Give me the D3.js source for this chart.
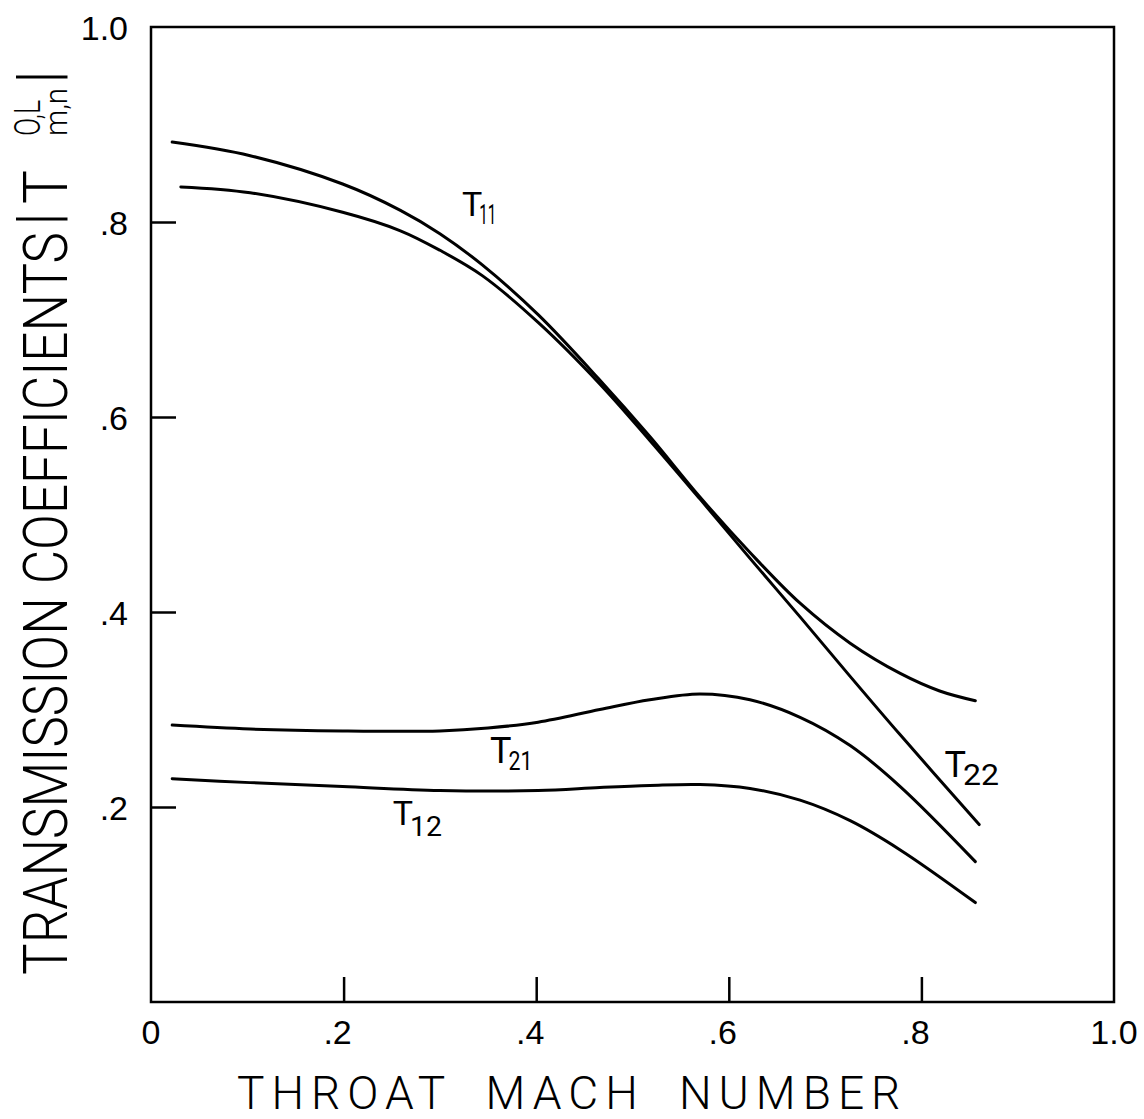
<!DOCTYPE html>
<html>
<head>
<meta charset="utf-8">
<script src="https://cdn.jsdelivr.net/npm/d3@7"></script>
<style>
  html, body { margin: 0; padding: 0; background: #fff; }
  svg { display: block; }
</style>
</head>
<body>
<svg id="chart" width="1144" height="1119"></svg>
<script>
// ---- data ----
const xTicks = [0, 0.2, 0.4, 0.6, 0.8, 1.0];
const xTickLabels = ["0", ".2", ".4", ".6", ".8", "1.0"];
const yTicks = [0.2, 0.4, 0.6, 0.8, 1.0];
const yTickLabels = [".2", ".4", ".6", ".8", "1.0"];

const machT11 = [0.022, 0.103, 0.199, 0.259, 0.300, 0.344, 0.402, 0.466, 0.518, 0.570, 0.622, 0.674, 0.726, 0.778, 0.819, 0.856];
const valT11  = [0.882, 0.868, 0.839, 0.812, 0.788, 0.756, 0.705, 0.638, 0.580, 0.518, 0.461, 0.409, 0.368, 0.337, 0.319, 0.309];

const machT22 = [0.031, 0.103, 0.199, 0.259, 0.300, 0.344, 0.402, 0.466, 0.518, 0.570, 0.622, 0.674, 0.726, 0.778, 0.860];
const valT22  = [0.836, 0.830, 0.810, 0.791, 0.771, 0.745, 0.697, 0.634, 0.576, 0.516, 0.455, 0.395, 0.334, 0.274, 0.182];

const machT21 = [0.022, 0.103, 0.199, 0.300, 0.350, 0.402, 0.466, 0.518, 0.570, 0.622, 0.674, 0.726, 0.778, 0.856];
const valT21  = [0.284, 0.280, 0.278, 0.278, 0.281, 0.287, 0.300, 0.310, 0.316, 0.310, 0.292, 0.263, 0.221, 0.144];

const machT12 = [0.022, 0.103, 0.199, 0.300, 0.402, 0.466, 0.518, 0.570, 0.622, 0.674, 0.726, 0.778, 0.856];
const valT12  = [0.229, 0.225, 0.221, 0.217, 0.217, 0.220, 0.222, 0.223, 0.219, 0.207, 0.186, 0.156, 0.102];

const curveNames = ["T", "T", "T", "T"];
const curveSubs = ["11", "21", "12", "22"];

// ---- layout ----
const svg = d3.select("#chart");
const x = d3.scaleLinear().domain([0, 1]).range([151, 1114]);
const y = d3.scaleLinear().domain([0, 1]).range([1002, 27]);

const ink = "#000";
const fontTick = "'Liberation Sans', Arial, sans-serif";
const fontLetter = "Roboto, 'DejaVu Sans', sans-serif";

// frame
svg.append("rect")
  .attr("x", x(0)).attr("y", y(1))
  .attr("width", x(1) - x(0)).attr("height", y(0) - y(1))
  .attr("fill", "none").attr("stroke", ink).attr("stroke-width", 2.5);

// x axis ticks (inward)
const xAxis = d3.axisTop(x).tickValues(xTicks.filter(v => v > 0 && v < 1))
  .tickSize(25).tickFormat("");
const gx = svg.append("g").attr("transform", `translate(0,${y(0)})`).call(xAxis);
gx.select(".domain").remove();
gx.selectAll("line").attr("stroke", ink).attr("stroke-width", 2.5);

svg.append("g").selectAll("text").data(xTicks).join("text")
  .attr("x", (d, i) => x(d) - (xTickLabels[i].startsWith(".") ? 6 : 0))
  .attr("y", y(0) + 42)
  .attr("text-anchor", "middle")
  .attr("font-family", fontTick).attr("font-size", 34)
  .attr("fill", ink)
  .text((d, i) => xTickLabels[i]);

// y axis ticks (inward)
const yAxis = d3.axisRight(y).tickValues(yTicks.filter(v => v < 1))
  .tickSize(25).tickFormat("");
const gy = svg.append("g").attr("transform", `translate(${x(0)},0)`).call(yAxis);
gy.select(".domain").remove();
gy.selectAll("line").attr("stroke", ink).attr("stroke-width", 2.5);

svg.append("g").selectAll("text").data(yTicks).join("text")
  .attr("x", 128)
  .attr("y", d => y(d) + 13)
  .attr("text-anchor", "end")
  .attr("font-family", fontTick).attr("font-size", 34)
  .attr("fill", ink)
  .text((d, i) => yTickLabels[i]);

// curves
const line = d3.line().x(d => x(d[0])).y(d => y(d[1])).curve(d3.curveCatmullRom.alpha(0.5));
const allSeries = [
  d3.zip(machT11, valT11),
  d3.zip(machT22, valT22),
  d3.zip(machT21, valT21),
  d3.zip(machT12, valT12)
];
svg.append("g").selectAll("path").data(allSeries).join("path")
  .attr("d", line)
  .attr("fill", "none").attr("stroke", ink).attr("stroke-width", 3)
  .attr("stroke-linecap", "round");

// curve labels (T with subscripts)
const labelPos = [
  {mx: 0.323, my: 0.806, subW: 17, subDy: 8, tSize: 34, sSize: 28},   // T11
  {mx: 0.352, my: 0.245, subW: 24, subDy: 7, tSize: 36, sSize: 26},   // T21
  {mx: 0.251, my: 0.182, subW: 32, subDy: 11, tSize: 34, sSize: 28},  // T12
  {mx: 0.824, my: 0.231, subW: 36, subDy: 8, tSize: 36, sSize: 30}    // T22
];
labelPos.forEach((p, i) => {
  const t = svg.append("text")
    .attr("x", x(p.mx)).attr("y", y(p.my))
    .attr("font-family", fontLetter).attr("font-size", p.tSize)
    .attr("fill", ink);
  t.append("tspan").text(curveNames[i]);
  t.append("tspan").attr("dx", -3).attr("dy", p.subDy).attr("font-size", p.sSize)
    .attr("textLength", p.subW).attr("lengthAdjust", "spacingAndGlyphs")
    .text(curveSubs[i]);
});

// x axis title
svg.append("text")
  .attr("x", 237).attr("y", 1109)
  .attr("font-family", fontLetter).attr("font-weight", 300).attr("font-size", 46)
  .style("letter-spacing", "7px").style("word-spacing", "16px")
  .attr("fill", ink)
  .text("THROAT MACH NUMBER");

// y axis title (rotated, reads bottom to top)
const yg = svg.append("g").attr("transform", "rotate(-90)");
const yt = yg.append("text")
  .attr("font-family", fontLetter).attr("font-weight", 300).attr("font-size", 62)
  .attr("fill", ink);
yt.append("tspan").attr("x", -975).attr("y", 67)
  .attr("textLength", 743).attr("lengthAdjust", "spacingAndGlyphs")
  .text("TRANSMISSION COEFFICIENTS");
yt.append("tspan").attr("x", -226).attr("y", 60).text("|");
yt.append("tspan").attr("x", -204).attr("y", 67)
  .attr("textLength", 34).attr("lengthAdjust", "spacingAndGlyphs").text("T");
yt.append("tspan").attr("x", -136).attr("y", 40).attr("font-size", 36)
  .attr("textLength", 36).attr("lengthAdjust", "spacingAndGlyphs").text("O,L");
yt.append("tspan").attr("x", -136).attr("y", 67).attr("font-size", 32)
  .attr("textLength", 48).attr("lengthAdjust", "spacingAndGlyphs").text("m,n");
yt.append("tspan").attr("x", -84).attr("y", 60).text("|");
</script>
</body>
</html>
